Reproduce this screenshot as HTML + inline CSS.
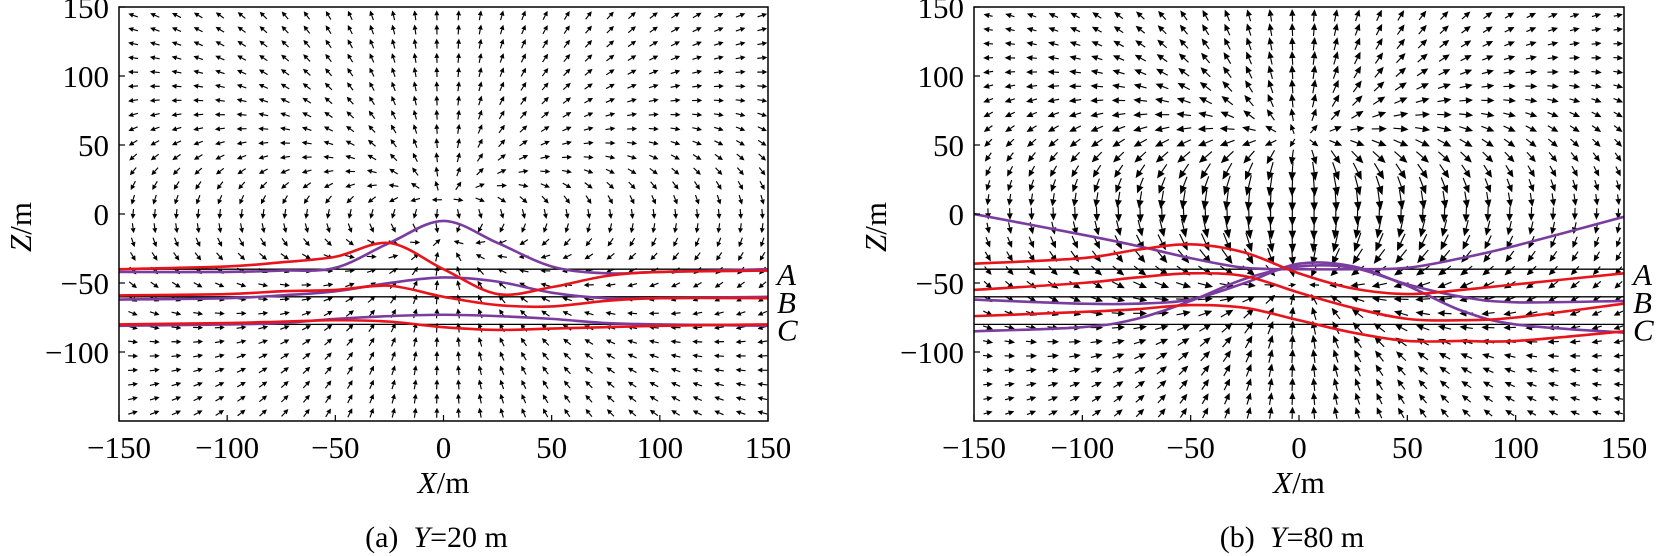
<!DOCTYPE html>
<html><head><meta charset="utf-8"><style>
html,body{margin:0;padding:0;background:#fff;}
svg{display:block;}
text{font-family:"Liberation Serif",serif;fill:#000;}
</style></head><body>
<svg id="chart" width="1671" height="556" viewBox="0 0 1671 556" xmlns="http://www.w3.org/2000/svg"></svg>
<script>
// ---- data ----
const xTicks = [-150,-100,-50,0,50,100,150];
const zTicks = [150,100,50,0,-50,-100];
const lineLevels = [-40,-60,-80];
const lineLabels = ['A','B','C'];
const panelTitles = ['Y=20 m','Y=80 m'];
const panelLetters = ['(a)','(b)'];
const planeY = [20,75];
const dipoleZ = [-4,2];
const curveX = [-150,-100,-75,-50,-25,0,25,50,75,100,150];
// left panel (Y=20)
const redA_L = [-40,-38,-35,-31,-21,-40,-58,-53,-45,-42,-41];
const redB_L = [-59,-58,-56,-55,-52,-60,-66,-67,-63,-61,-61];
const redC_L = [-80,-79,-78,-77,-78,-82,-84,-83,-82,-81,-80];
const purA_L = [-42,-42,-41,-39,-21,-5,-21,-38,-43,-42,-40];
const purB_L = [-62,-61,-59,-56,-50,-46,-49,-57,-61,-61,-60];
const purC_L = [-81,-80,-79,-76,-74,-73,-74,-76,-79,-80,-81];
// right panel (Y=80)
const redA_R = [-36,-32,-26,-22,-28,-43,-54,-58,-55,-51,-43];
const redB_R = [-55,-50,-46,-43,-45,-57,-68,-76,-77,-75,-65];
const redC_R = [-74,-71,-69,-66,-68,-77,-86,-92,-92,-92,-85];
const purA_R = [0,-15,-23,-32,-39,-40,-40,-39,-32,-23,-2];
const purB_R = [-62,-65,-65,-62,-50,-36,-38,-52,-70,-80,-86];
const purC_R = [-85,-82,-76,-63,-47,-38,-39,-51,-60,-64,-63];
const redSeries = [[redA_L,redB_L,redC_L],[redA_R,redB_R,redC_R]];
const purSeries = [[purA_L,purB_L,purC_L],[purA_R,purB_R,purC_R]];

// ---- layout ----
const NS='http://www.w3.org/2000/svg';
const svg=document.getElementById('chart');
const panels=[{x0:119,x1:768},{x0:974,x1:1624}];
const Y0=7,Y1=421;
function mk(tag,attrs,parent){const e=document.createElementNS(NS,tag);for(const k in attrs)e.setAttribute(k,attrs[k]);(parent||svg).appendChild(e);return e;}

panels.forEach((p,pi)=>{
  const sx=v=>p.x0+(v+150)/300*(p.x1-p.x0);
  const sz=v=>Y0+(150-v)/300*(Y1-Y0);
  const g=mk('g',{});
  
  
  const cp=mk('clipPath',{id:'clip'+pi},g);
  mk('rect',{x:p.x0,y:Y0,width:p.x1-p.x0,height:Y1-Y0},cp);
  // quiver arrows
  const q=mk('g',{'clip-path':'url(#clip'+pi+')'},g);
  
  
  const d=planeY[pi], z0=dipoleZ[pi];
  for(let i=0;i<30;i++){
    for(let j=0;j<29;j++){
      const X=-143.5+i*10.03, Z=144-j*(288/28);
      const dz=Z-z0, r2=X*X+d*d+dz*dz, r=Math.sqrt(r2), r5=r2*r2*r;
      const bx=3*dz*X/r5, bz=(3*dz*dz-r2)/r5;
      const mag=Math.hypot(bx,bz);
      if(mag===0) continue;
      let L;
      if(pi===0){ L=10; }
      else { const rel=mag*Math.pow(75,3); L=Math.max(3,Math.min(27,24*Math.pow(rel,0.33))); }
      const ux=bx/mag, uz=-bz/mag;
      const cx=sx(X), cy=sz(Z);
      const x1=cx-ux*L/2, y1=cy-uz*L/2, x2=cx+ux*L/2, y2=cy+uz*L/2;
      const hl=pi===0?5:Math.min(9,3+L*0.3), hw=pi===0?2.5:Math.min(3.8,1.6+L*0.12);
      const bxp=x2-ux*hl, byp=y2-uz*hl;
      const ln=mk('line',{x1:x1,y1:y1,x2:bxp,y2:byp,stroke:'#000','stroke-width':1.15},q);
      
      
      const hd=mk('polygon',{points:`${x2},${y2} ${bxp-uz*hw},${byp+ux*hw} ${bxp+uz*hw},${byp-ux*hw}`,fill:'#000'},q);
      
      
    }
  }
  lineLevels.forEach((lv,k)=>{
    const l=mk('line',{x1:p.x0,x2:p.x1,y1:sz(lv),y2:sz(lv),stroke:'#000','stroke-width':1.3},g);
    
    
    const t=mk('text',{x:p.x1+9,y:sz(lv)+16,'font-size':31,'font-style':'italic'},g);
    t.textContent=lineLabels[k];
    
    
  });
  function pathOf(vals){
    const pts=curveX.map((x,k)=>[sx(x),sz(vals[k])]);
    let s=`M${pts[0][0]},${pts[0][1]}`;
    for(let k=0;k<pts.length-1;k++){
      const p0=pts[Math.max(0,k-1)],p1=pts[k],p2=pts[k+1],p3=pts[Math.min(pts.length-1,k+2)];
      const c1=[p1[0]+(p2[0]-p0[0])/6,p1[1]+(p2[1]-p0[1])/6];
      const c2=[p2[0]-(p3[0]-p1[0])/6,p2[1]-(p3[1]-p1[1])/6];
      s+=` C${c1[0]},${c1[1]} ${c2[0]},${c2[1]} ${p2[0]},${p2[1]}`;
    }
    return s;
  }
  purSeries[pi].forEach((vals,k)=>{
    const e=mk('path',{d:pathOf(vals),fill:'none',stroke:'#7a3c9e','stroke-width':2.6,'clip-path':'url(#clip'+pi+')'},g);
    
    
  });
  redSeries[pi].forEach((vals,k)=>{
    const e=mk('path',{d:pathOf(vals),fill:'none',stroke:'#e8141c','stroke-width':2.6,'clip-path':'url(#clip'+pi+')'},g);
    
    
  });
  const fr=mk('rect',{x:p.x0,y:Y0,width:p.x1-p.x0,height:Y1-Y0,fill:'none',stroke:'#000','stroke-width':1.5},g);
  
  
  xTicks.forEach(v=>{
    const tk=mk('line',{x1:sx(v),x2:sx(v),y1:Y1,y2:Y1-6,stroke:'#000','stroke-width':1.2},g);
    
    
    const t=mk('text',{x:sx(v),y:458,'font-size':31,'text-anchor':'middle'},g);
    t.textContent=(v<0?'\u2212'+(-v):String(v));
    
    
  });
  zTicks.forEach(v=>{
    const tk=mk('line',{x1:p.x0,x2:p.x0+6,y1:sz(v),y2:sz(v),stroke:'#000','stroke-width':1.2},g);
    
    
    const t=mk('text',{x:p.x0-10,y:sz(v)+11,'font-size':31,'text-anchor':'end'},g);
    t.textContent=(v<0?'\u2212'+(-v):String(v));
    
    
  });
  const cxm=sx(0);
  const xl=mk('text',{x:cxm,y:493,'font-size':31,'text-anchor':'middle'},g);
  xl.innerHTML='<tspan font-style="italic">X</tspan>/m';
  
  
  const zx=p.x0-88, zy=227;
  const zl=mk('text',{x:zx,y:zy,'font-size':31,'text-anchor':'middle',transform:`rotate(-90 ${zx} ${zy})`},g);
  zl.innerHTML='<tspan font-style="italic">Z</tspan>/m';
  
  
  const cap=mk('text',{x:cxm-7,y:547,'font-size':30,'text-anchor':'middle'},g);
  cap.innerHTML=panelLetters[pi]+'\u00a0\u00a0<tspan font-style="italic">Y</tspan>='+panelTitles[pi].slice(2);
  
  
});
</script>
</body></html>
